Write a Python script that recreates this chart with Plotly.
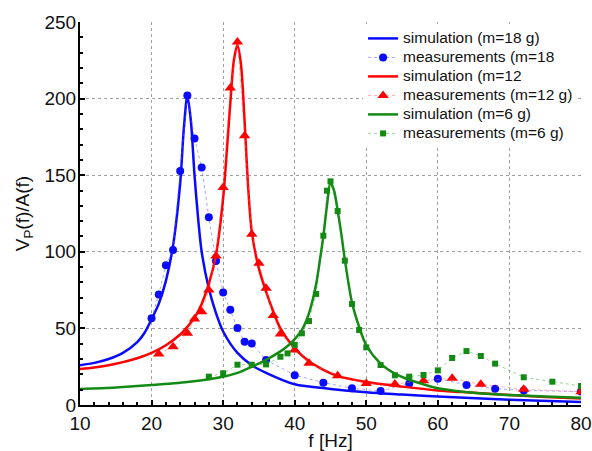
import plotly.graph_objects as go

# ---------------- data ----------------
# simulation curves
sim18_f = [10, 12, 14, 16, 18, 19, 20, 21, 22, 23, 24, 24.5, 25, 25.5, 26, 26.5, 27, 28, 29, 30, 32, 34, 36, 40, 45, 50, 55, 60, 70, 80]
sim18_v = [26, 27.5, 30, 34, 41, 47, 56, 66, 81, 104, 145, 180, 202, 185, 150, 122, 100, 76, 60, 48, 34, 26, 21, 13.5, 10.5, 8.3, 6.8, 5.5, 3.5, 2]

sim12_f = [10, 12, 14, 16, 18, 20, 22, 24, 25, 26, 27, 28, 29, 30, 30.5, 31, 31.5, 32, 32.5, 33, 33.5, 34, 35, 36, 37, 38, 40, 42, 44, 46, 50, 55, 60, 65, 70, 75, 80]
sim12_v = [23.5, 24.5, 26, 28, 30.5, 34, 39, 46, 51, 57, 66, 79, 98, 135, 165, 197, 225, 235, 222, 185, 142, 113, 89, 74, 61, 50, 37, 28.5, 23, 19, 15, 12, 9.5, 8, 6.5, 5.3, 4.2]

sim6_f = [10, 15, 20, 25, 30, 32, 34, 36, 38, 39, 40, 41, 42, 43, 43.5, 44, 44.5, 45, 45.5, 46, 46.5, 47, 48, 49, 50, 52, 54, 56, 58, 60, 65, 70, 75, 80]
sim6_v = [10.5, 11.5, 13, 15, 18.5, 21, 25, 29.5, 35, 38.5, 43, 49, 60, 79, 94, 110, 130, 145, 140, 127, 112, 95, 67, 51, 39, 27, 20.5, 16.5, 13.5, 11, 8, 6.5, 5.5, 4.8]

# measurements
meas18_f = [20, 21, 22, 23, 24, 25, 26, 27, 28, 29, 30, 31, 32, 33, 34, 36, 40, 44, 48, 52, 56, 60, 64, 68, 72, 80]
meas18_v = [56.6, 72.2, 91.2, 101.2, 152.7, 202, 174, 155, 122.5, 94, 73.5, 62.2, 50.3, 41.3, 40.2, 29.4, 19.5, 14.6, 10.9, 9.1, 14.1, 17.2, 13.1, 10.6, 9.5, 8.8]

meas12_f = [21, 23, 25, 26, 27, 28, 29, 30, 31, 32, 33, 34, 35, 36, 37, 38, 40, 42, 46, 50, 54, 58, 62, 66, 72, 80]
meas12_v = [33.3, 38.1, 46.8, 56.1, 60.9, 75, 97.3, 142, 207, 237, 175.8, 111.4, 92.5, 76.2, 58.5, 46.3, 35.9, 27.2, 19.1, 14.1, 13.7, 15.9, 17.4, 13.5, 10.2, 8.7]

meas6_f = [28, 30, 32, 34, 36, 38, 39, 40, 41, 42, 43, 44, 44.5, 45, 46, 47, 48, 49, 50, 52, 54, 56, 58, 60, 62, 64, 66, 68, 72, 76, 80]
meas6_v = [18.5, 20.7, 26.3, 26.3, 26.5, 31.5, 33.7, 39.2, 46.8, 54.8, 72.5, 110.5, 139.9, 146, 126.6, 94.2, 65.9, 49, 37.6, 26.1, 19.4, 18.5, 19.6, 22.6, 30.7, 35.2, 32, 27, 18.1, 15.2, 12.4]

x_ticks = [10, 20, 30, 40, 50, 60, 70, 80]
y_ticks = [0, 50, 100, 150, 200, 250]

legend_names = ["simulation (m=18 g)", "measurements (m=18", "simulation (m=12",
                "measurements (m=12 g)", "simulation (m=6 g)", "measurements (m=6 g)"]

BLUE = "#0a0aff"
RED = "#ff0000"
GREEN = "#138a13"


def lname(s):
    return '<span style="font-size:15.5px">' + s + '</span>'


fig = go.Figure()

fig.add_trace(go.Scatter(x=sim18_f, y=sim18_v, mode="lines", name=lname(legend_names[0]),
                         line=dict(color=BLUE, width=2.5, shape="spline", smoothing=0.8)))
fig.add_trace(go.Scatter(x=meas18_f, y=meas18_v, mode="lines+markers", name=lname(legend_names[1]),
                         line=dict(color="rgba(90,90,255,0.55)", width=1, dash="dot"),
                         marker=dict(color=BLUE, symbol="circle", size=8)))
fig.add_trace(go.Scatter(x=sim12_f, y=sim12_v, mode="lines", name=lname(legend_names[2]),
                         line=dict(color=RED, width=2.5, shape="spline", smoothing=0.8)))
fig.add_trace(go.Scatter(x=meas12_f, y=meas12_v, mode="lines+markers", name=lname(legend_names[3]),
                         line=dict(color="rgba(255,90,90,0.5)", width=1, dash="dot"),
                         marker=dict(color=RED, symbol="triangle-up", size=10)))
fig.add_trace(go.Scatter(x=sim6_f, y=sim6_v, mode="lines", name=lname(legend_names[4]),
                         line=dict(color=GREEN, width=2.5, shape="spline", smoothing=0.8)))
fig.add_trace(go.Scatter(x=meas6_f, y=meas6_v, mode="lines+markers", name=lname(legend_names[5]),
                         line=dict(color="rgba(40,150,40,0.45)", width=1, dash="dot"),
                         marker=dict(color=GREEN, symbol="square", size=6)))

axis_font = dict(family="Liberation Sans, Arial, sans-serif", size=19, color="#111")

fig.update_layout(
    width=592, height=451,
    margin=dict(l=80, r=11, t=22, b=46),
    paper_bgcolor="white", plot_bgcolor="white",
    font=dict(family="Liberation Sans, Arial, sans-serif", color="#111"),
    legend=dict(x=0.565, y=0.995, xanchor="left", yanchor="top",
                bgcolor="white", borderwidth=0,
                font=dict(size=12.3, family="Liberation Sans, Arial, sans-serif", color="#111"),
                tracegroupgap=0, itemwidth=30),
    showlegend=True,
)

fig.update_xaxes(
    range=[10, 80], tickvals=x_ticks, ticktext=[str(t) for t in x_ticks],
    showline=True, linecolor="black", linewidth=2,
    ticks="inside", ticklen=5, tickwidth=2, tickcolor="black",
    minor=dict(dtick=2, ticks="inside", ticklen=3, tickwidth=1.5, tickcolor="black", showgrid=False),
    showgrid=True, gridcolor="#a0a0a0", gridwidth=1, griddash="dot",
    zeroline=False, tickfont=axis_font, automargin=False,
    title=dict(text="f [Hz]", font=axis_font, standoff=4),
)
fig.update_yaxes(
    range=[0, 250], tickvals=y_ticks, ticktext=[str(t) for t in y_ticks],
    showline=True, linecolor="black", linewidth=2,
    ticks="inside", ticklen=5, tickwidth=2, tickcolor="black",
    minor=dict(dtick=10, ticks="inside", ticklen=3, tickwidth=1.5, tickcolor="black", showgrid=False),
    showgrid=True, gridcolor="#a0a0a0", gridwidth=1, griddash="dot",
    zeroline=False, tickfont=axis_font, automargin=False, ticklabelstandoff=-2,
    title=dict(text="V<sub>P</sub>(f)/A(f)", font=axis_font, standoff=10),
)

# remove the default 8px page margin so the figure fills the window exactly
fig.write_html("out.html",
               config={"displayModeBar": False},
               post_script="document.body.style.margin='0';document.body.style.overflow='hidden';")
